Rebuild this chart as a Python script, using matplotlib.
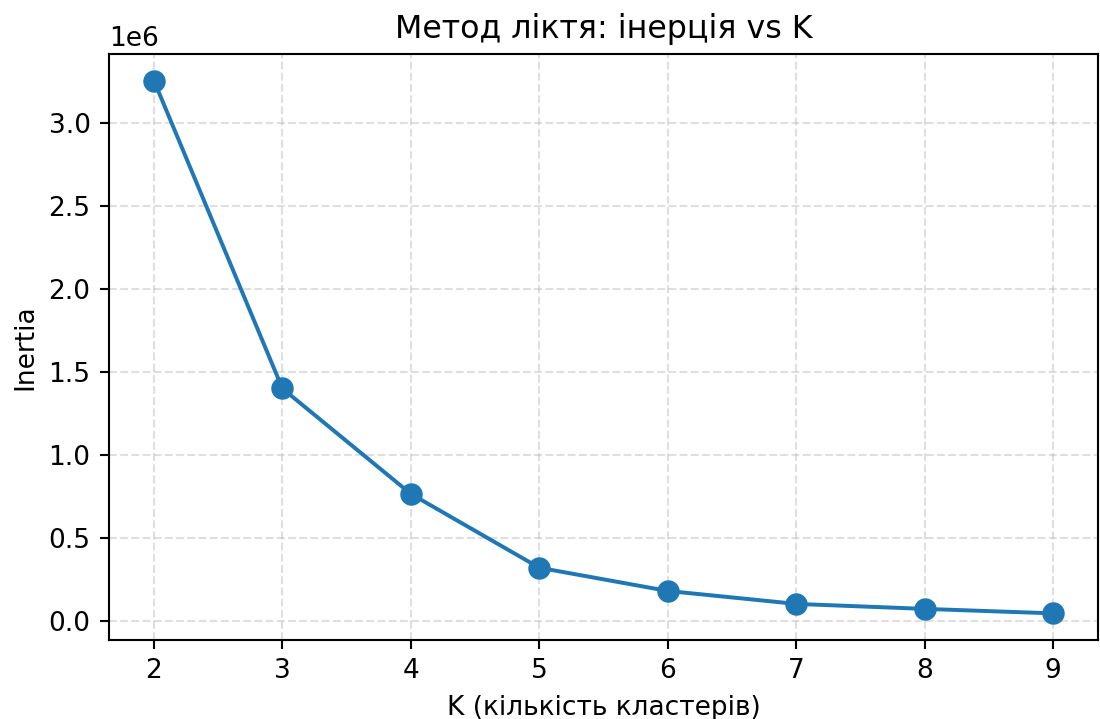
import matplotlib
matplotlib.use("Agg")
import matplotlib.pyplot as plt

k_values = [2, 3, 4, 5, 6, 7, 8, 9]
inertia = [3.255e6, 1.40e6, 0.765e6, 0.32e6, 0.18e6, 0.102e6, 0.072e6, 0.045e6]

DPI = 190
fig = plt.figure(figsize=(1100 / DPI, 719 / DPI), dpi=DPI)
ax = fig.add_axes([109 / 1100, 1 - 640 / 719, 989 / 1100, 586 / 719])

ax.plot(k_values, inertia, marker="o", markersize=7.5)
ax.set_title("Метод ліктя: інерція vs K")
ax.set_xlabel("K (кількість кластерів)")
ax.set_ylabel("Inertia")
ax.grid(True, linestyle="--", alpha=0.4)

fig.savefig("out.png", dpi=DPI)
